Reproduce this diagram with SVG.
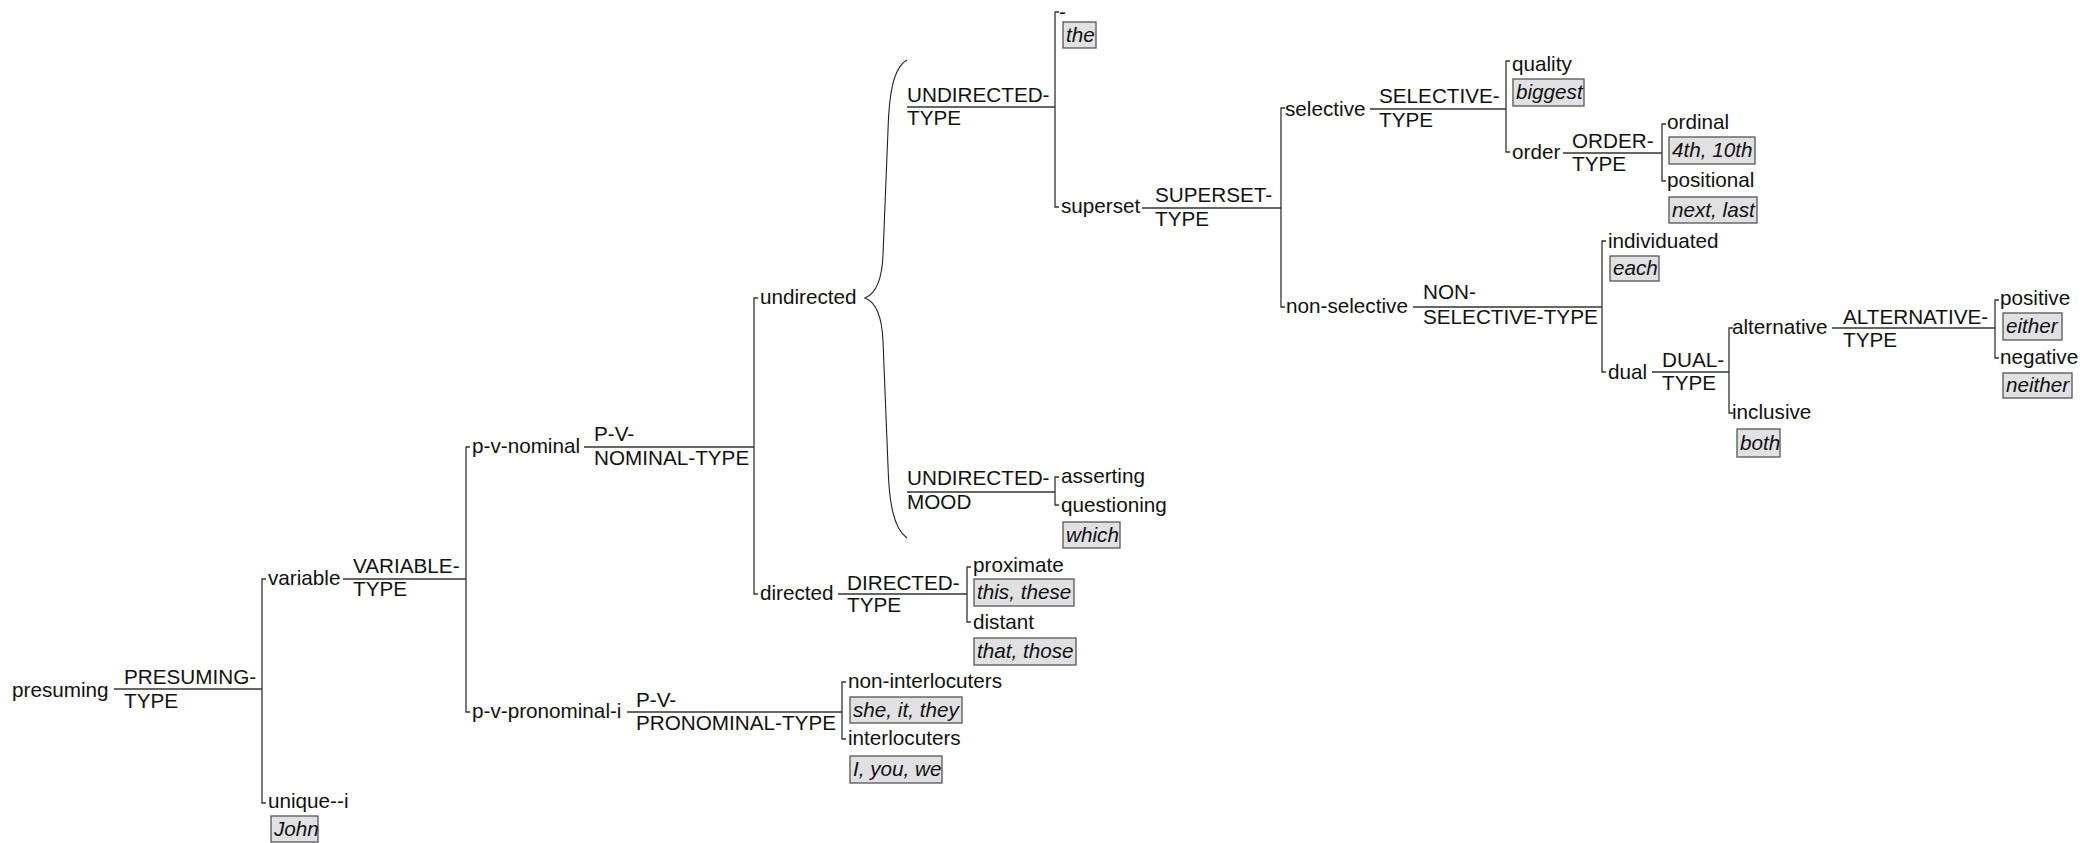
<svg xmlns="http://www.w3.org/2000/svg" width="2091" height="843" viewBox="0 0 2091 843">
  <style>
    text { font-family: "Liberation Sans", Arial, sans-serif; font-size: 20.7px; fill: #111; }
    .ex { font-style: italic; }
    .box { fill: #e1e1e3; stroke: #555; stroke-width: 1.3; }
    .ln { fill: none; stroke: #333; stroke-width: 1.3; }
    .brace { fill: none; stroke: #222; stroke-width: 1.1; }
  </style>
  <rect width="2091" height="843" fill="#fff"/>

  <!-- connectors: system lines and branching brackets -->
  <g id="connectors">
    <path class="ln" d="M114,689 H262"/>
    <path class="ln" d="M266,579 H262 V803 H266"/>
    <path class="ln" d="M343,579 H466"/>
    <path class="ln" d="M470,447 H466 V712 H470"/>
    <path class="ln" d="M584,447 H754"/>
    <path class="ln" d="M758,298 H754 V594 H758"/>
    <path class="brace" d="M907,60 C893,68 889,95 888,130 L883,255 C882,280 875,294 865,298 C875,302 882,316 883,341 L888,466 C889,501 893,528 907,538"/>
    <path class="ln" d="M907,107 H1055"/>
    <path class="ln" d="M1059,12 H1055 V207 H1059"/>
    <path class="ln" d="M1142,208 H1281"/>
    <path class="ln" d="M1285,108 H1281 V307 H1285"/>
    <path class="ln" d="M1370,109 H1506"/>
    <path class="ln" d="M1510,61 H1506 V152 H1510"/>
    <path class="ln" d="M1563,153 H1662"/>
    <path class="ln" d="M1666,124 H1662 V181 H1666"/>
    <path class="ln" d="M1413,307 H1602"/>
    <path class="ln" d="M1606,241 H1602 V372 H1606"/>
    <path class="ln" d="M1652,372 H1729"/>
    <path class="ln" d="M1733,328 H1729 V413 H1733"/>
    <path class="ln" d="M1832,328 H1995"/>
    <path class="ln" d="M1999,300 H1995 V358 H1999"/>
    <path class="ln" d="M907,492 H1055"/>
    <path class="ln" d="M1059,477 H1055 V505 H1059"/>
    <path class="ln" d="M838,594 H967"/>
    <path class="ln" d="M971,567 H967 V622 H971"/>
    <path class="ln" d="M627,712 H842"/>
    <path class="ln" d="M846,682 H842 V739 H846"/>
  </g>

  <g id="presuming">
    <text x="12" y="697">presuming</text>
    <text x="124" y="684">PRESUMING-</text>
    <text x="124" y="708">TYPE</text>
  </g>
  <g id="variable">
    <text x="268" y="585">variable</text>
    <text x="353" y="573">VARIABLE-</text>
    <text x="353" y="596">TYPE</text>
  </g>
  <g id="unique-i">
    <text x="268" y="808">unique--i</text>
    <rect class="box" x="271" y="816" width="47" height="26"/>
    <text class="ex" x="274" y="836">John</text>
  </g>
  <g id="p-v-nominal">
    <text x="472" y="453">p-v-nominal</text>
    <text x="594" y="441">P-V-</text>
    <text x="594" y="465">NOMINAL-TYPE</text>
  </g>
  <g id="p-v-pronominal-i">
    <text x="472" y="718">p-v-pronominal-i</text>
    <text x="636" y="707">P-V-</text>
    <text x="636" y="730">PRONOMINAL-TYPE</text>
  </g>
  <g id="non-interlocuters">
    <text x="848" y="688">non-interlocuters</text>
    <rect class="box" x="850" y="697" width="112" height="26"/>
    <text class="ex" x="853" y="717">she, it, they</text>
  </g>
  <g id="interlocuters">
    <text x="848" y="745">interlocuters</text>
    <rect class="box" x="850" y="756" width="92" height="27"/>
    <text class="ex" x="853" y="776">I, you, we</text>
  </g>
  <g id="undirected">
    <text x="760" y="304">undirected</text>
  </g>
  <g id="undirected-type">
    <text x="907" y="102">UNDIRECTED-</text>
    <text x="907" y="125">TYPE</text>
  </g>
  <g id="undirected-mood">
    <text x="907" y="485">UNDIRECTED-</text>
    <text x="907" y="509">MOOD</text>
  </g>
  <g id="directed">
    <text x="760" y="600">directed</text>
    <text x="847" y="590">DIRECTED-</text>
    <text x="847" y="612">TYPE</text>
  </g>
  <g id="proximate">
    <text x="973" y="572">proximate</text>
    <rect class="box" x="974" y="579" width="100" height="27"/>
    <text class="ex" x="977" y="599">this, these</text>
  </g>
  <g id="distant">
    <text x="973" y="629">distant</text>
    <rect class="box" x="974" y="638" width="102" height="27"/>
    <text class="ex" x="977" y="658">that, those</text>
  </g>
  <g id="unmarked">
    <text x="1059" y="19">-</text>
    <rect class="box" x="1063" y="22" width="33" height="26"/>
    <text class="ex" x="1066" y="42">the</text>
  </g>
  <g id="superset">
    <text x="1061" y="213">superset</text>
    <text x="1155" y="202">SUPERSET-</text>
    <text x="1155" y="226">TYPE</text>
  </g>
  <g id="asserting">
    <text x="1061" y="483">asserting</text>
  </g>
  <g id="questioning">
    <text x="1061" y="512">questioning</text>
    <rect class="box" x="1063" y="522" width="57" height="26"/>
    <text class="ex" x="1066" y="542">which</text>
  </g>
  <g id="selective">
    <text x="1285" y="116">selective</text>
    <text x="1379" y="103">SELECTIVE-</text>
    <text x="1379" y="127">TYPE</text>
  </g>
  <g id="non-selective">
    <text x="1286" y="313">non-selective</text>
    <text x="1423" y="299">NON-</text>
    <text x="1423" y="324">SELECTIVE-TYPE</text>
  </g>
  <g id="quality">
    <text x="1512" y="71">quality</text>
    <rect class="box" x="1513" y="79" width="71" height="27"/>
    <text class="ex" x="1516" y="99">biggest</text>
  </g>
  <g id="order">
    <text x="1512" y="159">order</text>
    <text x="1572" y="148">ORDER-</text>
    <text x="1572" y="171">TYPE</text>
  </g>
  <g id="ordinal">
    <text x="1667" y="129">ordinal</text>
    <rect class="box" x="1669" y="137" width="86" height="27"/>
    <text class="ex" x="1672" y="157">4th, 10th</text>
  </g>
  <g id="positional">
    <text x="1667" y="187">positional</text>
    <rect class="box" x="1669" y="197" width="88" height="26"/>
    <text class="ex" x="1672" y="217">next, last</text>
  </g>
  <g id="individuated">
    <text x="1608" y="248">individuated</text>
    <rect class="box" x="1610" y="256" width="49" height="25"/>
    <text class="ex" x="1613" y="275">each</text>
  </g>
  <g id="dual">
    <text x="1608" y="379">dual</text>
    <text x="1662" y="367">DUAL-</text>
    <text x="1662" y="390">TYPE</text>
  </g>
  <g id="alternative">
    <text x="1732" y="334">alternative</text>
    <text x="1843" y="324">ALTERNATIVE-</text>
    <text x="1843" y="347">TYPE</text>
  </g>
  <g id="inclusive">
    <text x="1732" y="419">inclusive</text>
    <rect class="box" x="1737" y="429" width="43" height="28"/>
    <text class="ex" x="1740" y="450">both</text>
  </g>
  <g id="positive">
    <text x="2000" y="305">positive</text>
    <rect class="box" x="2003" y="313" width="59" height="27"/>
    <text class="ex" x="2006" y="333">either</text>
  </g>
  <g id="negative">
    <text x="2000" y="364">negative</text>
    <rect class="box" x="2003" y="373" width="69" height="25"/>
    <text class="ex" x="2006" y="392">neither</text>
  </g>
</svg>
